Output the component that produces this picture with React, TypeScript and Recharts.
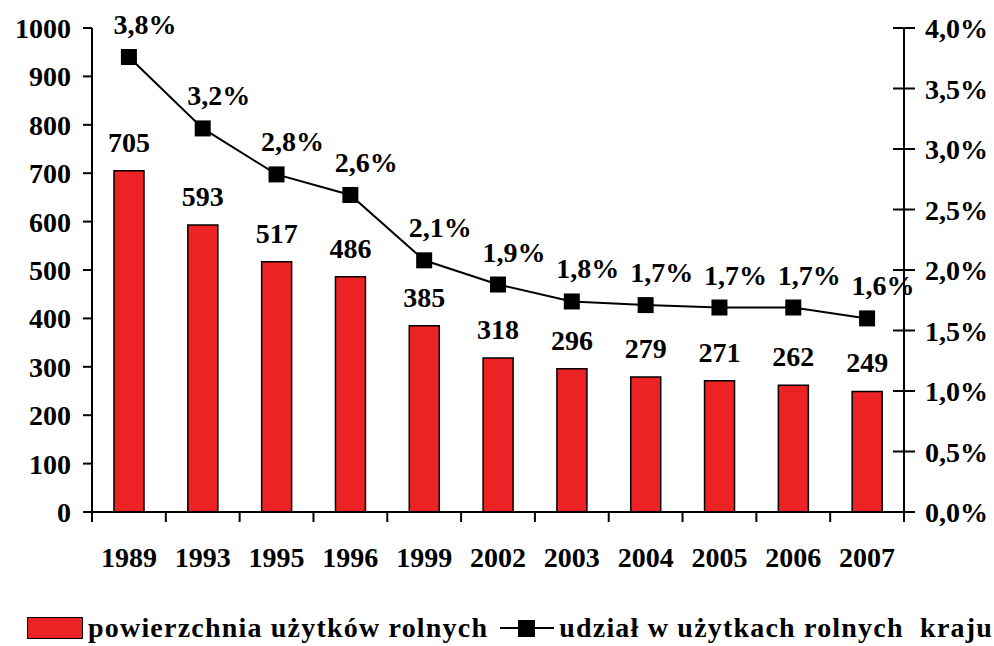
import { ComposedChart, Bar, Line, XAxis, YAxis, LabelList, Legend } from 'recharts'

// ── Data ────────────────────────────────────────────────────────
const years = ['1989', '1993', '1995', '1996', '1999', '2002', '2003', '2004', '2005', '2006', '2007']
const areaValues = [705, 593, 517, 486, 385, 318, 296, 279, 271, 262, 249]
const shareValues = [3.76, 3.17, 2.79, 2.62, 2.08, 1.88, 1.74, 1.71, 1.69, 1.69, 1.6]
const shareLabels = ['3,8%', '3,2%', '2,8%', '2,6%', '2,1%', '1,9%', '1,8%', '1,7%', '1,7%', '1,7%', '1,6%']
const leftTicks = [0, 100, 200, 300, 400, 500, 600, 700, 800, 900, 1000]
const rightTicks = [0, 0.5, 1, 1.5, 2, 2.5, 3, 3.5, 4]

const BAR_NAME = 'powierzchnia użytków rolnych'
const LINE_NAME = 'udział w użytkach rolnych  kraju'

const FONT = '"Liberation Serif", "Times New Roman", serif'
const RED = '#ED2224'

const data = years.map((year, i) => ({
  year,
  area: areaValues[i],
  share: shareValues[i],
  shareLabel: shareLabels[i],
}))

const textStyle = { fontFamily: FONT, fontWeight: 700, fontSize: 28, fill: '#000' }

// ── Custom ticks ───────────────────────────────────────────────
function YearTick(props: any) {
  const { x, y, payload, index, width, visibleTicksCount } = props
  const band = width && visibleTicksCount ? width / visibleTicksCount : 73.8
  const last = index === visibleTicksCount - 1
  return (
    <g>
      <line x1={x - band / 2} x2={x - band / 2} y1={y} y2={y + 10} stroke="#000" strokeWidth={2} />
      {last && <line x1={x + band / 2} x2={x + band / 2} y1={y} y2={y + 10} stroke="#000" strokeWidth={2} />}
      <text x={x} y={y + 55} textAnchor="middle" style={textStyle}>
        {payload.value}
      </text>
    </g>
  )
}

function LeftTick(props: any) {
  const { x, y, payload } = props
  return (
    <g>
      <line x1={x - 9} x2={x} y1={y} y2={y} stroke="#000" strokeWidth={2} />
      <text x={x - 21} y={y + 10} textAnchor="end" style={textStyle}>
        {payload.value}
      </text>
    </g>
  )
}

function RightTick(props: any) {
  const { x, y, payload } = props
  const label = `${Number(payload.value).toFixed(1).replace('.', ',')}%`
  return (
    <g>
      <line x1={x - 11} x2={x + 11} y1={y} y2={y} stroke="#000" strokeWidth={2} />
      <text x={x + 21} y={y + 10} textAnchor="start" style={textStyle}>
        {label}
      </text>
    </g>
  )
}

// ── Labels / markers ───────────────────────────────────────────
function BarValueLabel(props: any) {
  const { x, y, width, value } = props
  return (
    <text x={x + width / 2} y={y - 19} textAnchor="middle" style={textStyle}>
      {value}
    </text>
  )
}

function ShareLabel(props: any) {
  const { x, y, value } = props
  return (
    <text x={x + 16} y={y - 23} textAnchor="middle" style={textStyle}>
      {value}
    </text>
  )
}

function SquareDot(props: any) {
  const { cx, cy, index } = props
  return <rect key={`dot-${index}`} x={cx - 8} y={cy - 8} width={16} height={16} fill="#000" />
}

// ── Legend ─────────────────────────────────────────────────────
function ChartLegend() {
  const labelStyle = {
    fontFamily: FONT,
    fontWeight: 700,
    fontSize: 28,
    letterSpacing: 1.2,
    whiteSpace: 'pre' as const,
    lineHeight: '36px',
  }
  return (
    <div style={{ display: 'flex', alignItems: 'center', height: 36, paddingLeft: 27 }}>
      <div style={{ width: 54, height: 20, background: RED, border: '1.5px solid #000' }} />
      <span style={{ ...labelStyle, marginLeft: 5 }}>{BAR_NAME}</span>
      <svg width={54} height={20} style={{ marginLeft: 12 }}>
        <line x1={0} x2={54} y1={10} y2={10} stroke="#000" strokeWidth={2} />
        <rect x={18} y={2} width={17} height={17} fill="#000" />
      </svg>
      <span style={{ ...labelStyle, marginLeft: 5 }}>{LINE_NAME}</span>
    </div>
  )
}

export default function App() {
  return (
    <div style={{ position: 'absolute', left: 0, top: 0, width: 994, height: 646, background: '#fff' }}>
      <ComposedChart width={994} height={646} data={data} margin={{ top: 28, right: 0, bottom: 0, left: 0 }}>
        <XAxis
          dataKey="year"
          height={98}
          tickSize={0}
          tickMargin={0}
          tick={<YearTick />}
          axisLine={{ stroke: '#000', strokeWidth: 2 }}
          interval={0}
        />
        <YAxis
          yAxisId="left"
          width={92}
          domain={[0, 1000]}
          ticks={leftTicks}
          tickSize={0}
          tickMargin={0}
          tick={<LeftTick />}
          axisLine={{ stroke: '#000', strokeWidth: 2 }}
          interval={0}
        />
        <YAxis
          yAxisId="right"
          orientation="right"
          width={90}
          domain={[0, 4]}
          ticks={rightTicks}
          tickSize={0}
          tickMargin={0}
          tick={<RightTick />}
          axisLine={{ stroke: '#000', strokeWidth: 2 }}
          interval={0}
        />
        <Legend verticalAlign="bottom" content={<ChartLegend />} />
        <Bar
          yAxisId="left"
          dataKey="area"
          name={BAR_NAME}
          barSize={30}
          fill={RED}
          stroke="#000"
          strokeWidth={1.5}
          isAnimationActive={false}
        >
          <LabelList dataKey="area" content={<BarValueLabel />} />
        </Bar>
        <Line
          yAxisId="right"
          dataKey="share"
          name={LINE_NAME}
          type="linear"
          stroke="#000"
          strokeWidth={2}
          dot={<SquareDot />}
          activeDot={false}
          isAnimationActive={false}
        >
          <LabelList dataKey="shareLabel" content={<ShareLabel />} />
        </Line>
      </ComposedChart>
    </div>
  )
}
